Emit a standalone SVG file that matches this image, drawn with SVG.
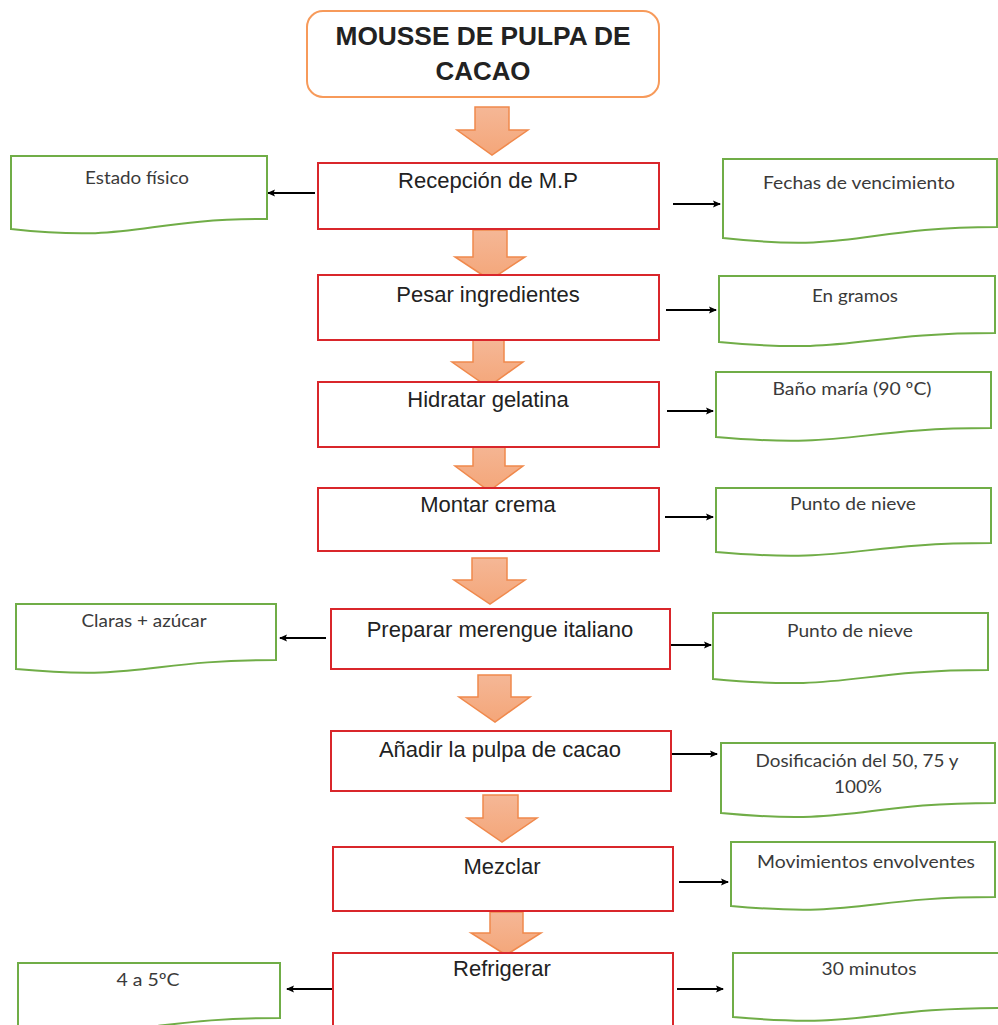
<svg xmlns="http://www.w3.org/2000/svg" width="998" height="1025" viewBox="0 0 998 1025">
<defs>
<style>
.proc{fill:#fff;stroke:#D9262B;stroke-width:2}
.doc{fill:#fff;stroke:#70AD47;stroke-width:2}
.ptxt{font-family:"Liberation Sans",Arial,sans-serif;font-size:22px;fill:#222;text-anchor:middle}
.dtxt{font-family:Lato,"Open Sans",sans-serif;font-size:18px;fill:#3a3a3a;text-anchor:middle}
.big{fill:url(#ag);stroke:#F0894C;stroke-width:1.5;stroke-linejoin:miter}
.side{stroke:#000;stroke-width:2;fill:none;marker-end:url(#ah)}
</style>
<linearGradient id="ag" x1="0" y1="0" x2="0" y2="1">
<stop offset="0" stop-color="#F5B796"/>
<stop offset="1" stop-color="#F4A679"/>
</linearGradient>
<marker id="ah" markerWidth="8" markerHeight="8" refX="7" refY="4" orient="auto" markerUnits="userSpaceOnUse">
<path d="M0,0.5 L8,4 L0,7.5 L1.5,4 Z" fill="#000"/>
</marker>
</defs>
<rect width="998" height="1025" fill="#fff"/>

<g id="connectors">
<path class="big" d="M475,107 H509 V130 H528 L492,155 L457,130 H475 Z"/>
<path class="big" d="M473,230 H507 V257 H525 L490,280 L455,257 H473 Z"/>
<path class="big" d="M473,340 H504 V362 H523 L488,387 L452,362 H473 Z"/>
<path class="big" d="M473,441 H505 V466 H523 L489,491 L455,466 H473 Z"/>
<path class="big" d="M472,558 H507 V580 H525 L490,604 L454,580 H472 Z"/>
<path class="big" d="M478,675 H511 V697 H530 L495,722 L459,697 H478 Z"/>
<path class="big" d="M483,795 H518 V818 H537 L502,842 L467,818 H483 Z"/>
<path class="big" d="M490,912 H523 V933 H541 L506,955 L471,933 H490 Z"/>
<line class="side" x1="315" y1="193" x2="268" y2="193"/>
<line class="side" x1="673" y1="204" x2="720" y2="204"/>
<line class="side" x1="666" y1="310" x2="716" y2="310"/>
<line class="side" x1="667" y1="411" x2="713" y2="411"/>
<line class="side" x1="665" y1="517" x2="713" y2="517"/>
<line class="side" x1="326" y1="638" x2="280" y2="638"/>
<line class="side" x1="667" y1="645" x2="711" y2="645"/>
<line class="side" x1="670" y1="754" x2="717" y2="754"/>
<line class="side" x1="679" y1="882" x2="728" y2="882"/>
<line class="side" x1="333" y1="989" x2="287" y2="989"/>
<line class="side" x1="677" y1="989" x2="723" y2="989"/>
</g>

<g id="title">
<rect x="307" y="11" width="352" height="86" rx="16" fill="#fff" stroke="#F79A5A" stroke-width="2"/>
<text x="483" y="45" font-family="Liberation Sans,Arial,sans-serif" font-weight="bold" font-size="25" fill="#222" text-anchor="middle" textLength="295" lengthAdjust="spacingAndGlyphs">MOUSSE DE PULPA DE</text>
<text x="483" y="80" font-family="Liberation Sans,Arial,sans-serif" font-weight="bold" font-size="25" fill="#222" text-anchor="middle" textLength="95" lengthAdjust="spacingAndGlyphs">CACAO</text>
</g>

<g id="p1"><rect class="proc" x="318" y="163" width="341" height="66"/><text class="ptxt" x="488" y="188">Recepción de M.P</text></g>
<g id="p2"><rect class="proc" x="318" y="275" width="341" height="65"/><text class="ptxt" x="488" y="302">Pesar ingredientes</text></g>
<g id="p3"><rect class="proc" x="318" y="382" width="341" height="65"/><text class="ptxt" x="488" y="407">Hidratar gelatina</text></g>
<g id="p4"><rect class="proc" x="318" y="488" width="341" height="63"/><text class="ptxt" x="488" y="512">Montar crema</text></g>
<g id="p5"><rect class="proc" x="331" y="609" width="339" height="60"/><text class="ptxt" x="500" y="637">Preparar merengue italiano</text></g>
<g id="p6"><rect class="proc" x="331" y="731" width="340" height="60"/><text class="ptxt" x="500" y="757">Añadir la pulpa de cacao</text></g>
<g id="p7"><rect class="proc" x="333" y="847" width="340" height="64"/><text class="ptxt" x="502" y="874">Mezclar</text></g>
<g id="p8"><rect class="proc" x="333" y="953" width="340" height="80"/><text class="ptxt" x="502" y="976">Refrigerar</text></g>

<g id="d1"><path class="doc" d="M11,156 H267 V219 C139,219 139,243 11,229 Z"/><text class="dtxt" x="137" y="184" textLength="104" lengthAdjust="spacingAndGlyphs">Estado físico</text></g>
<g id="d2"><path class="doc" d="M723,159 H997 V227 C860,227 860,253 723,238 Z"/><text class="dtxt" x="859" y="189" textLength="192" lengthAdjust="spacingAndGlyphs">Fechas de vencimiento</text></g>
<g id="d3"><path class="doc" d="M719,276 H995 V333 C857,333 857,355 719,342 Z"/><text class="dtxt" x="855" y="302" textLength="86" lengthAdjust="spacingAndGlyphs">En gramos</text></g>
<g id="d4"><path class="doc" d="M716,372 H991 V428 C853,428 853,449 716,437 Z"/><text class="dtxt" x="852" y="395" textLength="159" lengthAdjust="spacingAndGlyphs">Baño maría (90 ºC)</text></g>
<g id="d5"><path class="doc" d="M716,488 H991 V543 C853,543 853,564 716,552 Z"/><text class="dtxt" x="853" y="510" textLength="126" lengthAdjust="spacingAndGlyphs">Punto de nieve</text></g>
<g id="d6"><path class="doc" d="M16,604 H276 V660 C146,660 146,681 16,669 Z"/><text class="dtxt" x="144" y="627" textLength="125" lengthAdjust="spacingAndGlyphs">Claras + azúcar</text></g>
<g id="d7"><path class="doc" d="M713,613 H988 V670 C850,670 850,692 713,679 Z"/><text class="dtxt" x="850" y="637" textLength="126" lengthAdjust="spacingAndGlyphs">Punto de nieve</text></g>
<g id="d8"><path class="doc" d="M721,743 H995 V803 C858,803 858,826 721,813 Z"/><text class="dtxt" x="857" y="767" textLength="203" lengthAdjust="spacingAndGlyphs">Dosificación del 50, 75 y</text><text class="dtxt" x="858" y="793" textLength="48" lengthAdjust="spacingAndGlyphs">100%</text></g>
<g id="d9"><path class="doc" d="M731,842 H995 V897 C863,897 863,918 731,906 Z"/><text class="dtxt" x="866" y="868" textLength="218" lengthAdjust="spacingAndGlyphs">Movimientos envolventes</text></g>
<g id="d10"><path class="doc" d="M18,963 H280 V1018 C149,1018 149,1039 18,1027 Z"/><text class="dtxt" x="148" y="986" textLength="63" lengthAdjust="spacingAndGlyphs">4 a 5ºC</text></g>
<g id="d11"><path class="doc" d="M733,953 H1002 V1008 C868,1008 868,1029 733,1017 Z"/><text class="dtxt" x="869" y="975" textLength="95" lengthAdjust="spacingAndGlyphs">30 minutos</text></g>
</svg>
